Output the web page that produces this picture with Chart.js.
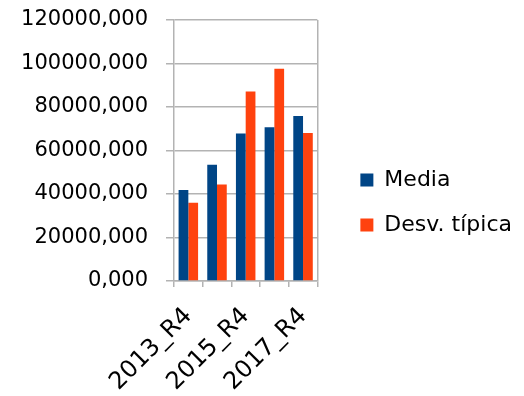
<!DOCTYPE html>
<html>
<head>
<meta charset="utf-8">
<script src="https://cdn.jsdelivr.net/npm/chart.js@4.4.1/dist/chart.umd.min.js"></script>
<style>
  html, body { margin: 0; padding: 0; background: #fff; }
  #wrap { width: 524px; height: 396px; }
</style>
</head>
<body>
<div id="wrap"><canvas id="chart"></canvas></div>
<script>
// Quarterly figures (Q4 of each year)
const categories = ['2013_R4', '2014_R4', '2015_R4', '2016_R4', '2017_R4'];
const media = [41800, 53400, 67800, 70700, 75900];
const desvTipica = [36000, 44400, 87100, 97600, 68100];
const seriesNames = ['Media', 'Desv. típica'];
const yMax = 120000;
const yStep = 20000;

const gridGray = '#b3b3b3';
const family = "'DejaVu Sans', sans-serif";

new Chart(document.getElementById('chart'), {
    type: 'bar',
    data: {
        labels: categories,
        datasets: [
            { label: seriesNames[0], data: media, backgroundColor: '#004586' },
            { label: seriesNames[1], data: desvTipica, backgroundColor: '#ff420e' }
        ]
    },
    options: {
        responsive: true,
        maintainAspectRatio: false,
        animation: false,
        events: [],
        layout: { padding: { top: 9, right: 2, bottom: 0, left: 0 } },
        datasets: {
            bar: { categoryPercentage: 0.68, barPercentage: 1.0 }
        },
        scales: {
            x: {
                grid: {
                    // only the outer right edge is drawn across the plot, ticks everywhere
                    color: ctx => ctx.type === 'scale' ? gridGray : 'rgba(0,0,0,0)',
                    tickColor: gridGray,
                    tickLength: 6,
                    lineWidth: 1.5
                },
                border: { color: gridGray, width: 1.5 },
                ticks: {
                    color: '#000',
                    font: { family: family, size: 24 },
                    autoSkip: false,
                    minRotation: 45,
                    maxRotation: 45,
                    padding: 15,
                    callback: function(value, index) {
                        return index % 2 === 0 ? this.getLabelForValue(value) : '';
                    }
                },
                afterFit: scale => { scale.height = 115; }
            },
            y: {
                min: 0,
                max: yMax,
                grid: { color: gridGray, lineWidth: 1.5, tickLength: 8 },
                border: { color: gridGray, width: 1.5 },
                ticks: {
                    stepSize: yStep,
                    color: '#000',
                    font: { family: family, size: 21 },
                    padding: 18,
                    callback: v => v.toFixed(3).replace('.', ',')
                },
                afterFit: scale => { scale.width = 174; scale.paddingTop = 20; }
            },
            // empty axis that keeps a gap between the plot and the legend
            gap: {
                type: 'linear',
                position: 'right',
                grid: { display: false },
                border: { display: false },
                ticks: { display: false },
                afterFit: scale => { scale.width = 20; }
            }
        },
        plugins: {
            legend: {
                position: 'right',
                maxWidth: 240,
                labels: {
                    color: '#000',
                    font: { family: family, size: 22 },
                    boxWidth: 13,
                    boxHeight: 13,
                    padding: 23
                }
            },
            tooltip: { enabled: false }
        }
    }
});
</script>
</body>
</html>
